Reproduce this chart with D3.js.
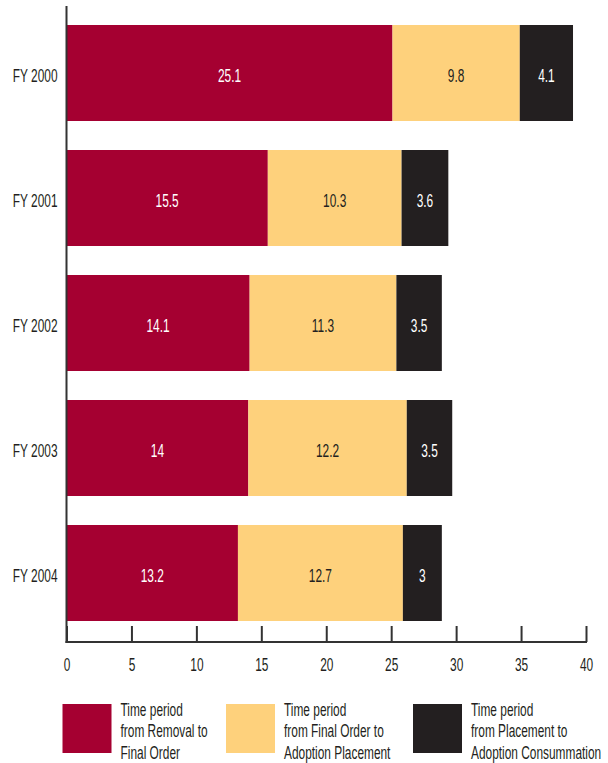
<!DOCTYPE html>
<html>
<head>
<meta charset="utf-8">
<script src="https://cdn.jsdelivr.net/npm/d3@7"></script>
<style>
  html, body { margin: 0; padding: 0; background: #fff; }
  svg { display: block; font-family: "Liberation Sans", "Arial", sans-serif; }
</style>
</head>
<body>
<svg id="chart" width="608" height="763"></svg>
<script>
// Fiscal years shown on the vertical axis
const years = ["FY 2000", "FY 2001", "FY 2002", "FY 2003", "FY 2004"];

// Months spent in each stage of the adoption process
const removalToFinalOrder = [25.1, 15.5, 14.1, 14, 13.2];
const finalOrderToPlacement = [9.8, 10.3, 11.3, 12.2, 12.7];
const placementToConsummation = [4.1, 3.6, 3.5, 3.5, 3];

const xTicks = [0, 5, 10, 15, 20, 25, 30, 35, 40];

const seriesNames = [
  ["Time period", "from Removal to", "Final Order"],
  ["Time period", "from Final Order to", "Adoption Placement"],
  ["Time period", "from Placement to", "Adoption Consummation"]
];
const seriesColors = ["#A50031", "#FED17C", "#231F20"];
const labelColors = ["#ffffff", "#231F20", "#ffffff"];

// Condensed lettering: regular sans squeezed horizontally
const FONT_SIZE = 17.5;
const SQUEEZE = 0.68;
const inkColor = "#231F20";

const svg = d3.select("#chart");

const x = d3.scaleLinear().domain([0, 40]).range([66.5, 586]);
const y = d3.scaleBand().domain(years).range([25, 621]).paddingInner(0.232).paddingOuter(0);

// Build stacked rows from the series arrays
const rows = years.map((yr, i) => ({
  year: yr,
  s0: removalToFinalOrder[i],
  s1: finalOrderToPlacement[i],
  s2: placementToConsummation[i]
}));
const layers = d3.stack().keys(["s0", "s1", "s2"])(rows);

const g = svg.append("g");
layers.forEach((layer, li) => {
  const lg = g.append("g");
  lg.selectAll("rect")
    .data(layer)
    .join("rect")
    .attr("x", d => x(d[0]))
    .attr("y", d => y(d.data.year))
    .attr("width", d => x(d[1]) - x(d[0]))
    .attr("height", y.bandwidth())
    .attr("fill", seriesColors[li]);
  lg.selectAll("text")
    .data(layer)
    .join("text")
    .attr("transform", d =>
      `translate(${(x(d[0]) + x(d[1])) / 2},${y(d.data.year) + y.bandwidth() / 2 + 9}) scale(${SQUEEZE},1)`)
    .attr("text-anchor", "middle")
    .attr("font-size", FONT_SIZE)
    .attr("fill", labelColors[li])
    .text(d => d.data[layer.key]);
});

// Category labels
svg.append("g").selectAll("text")
  .data(years)
  .join("text")
  .attr("transform", d => `translate(57.5,${y(d) + y.bandwidth() / 2 + 9.3}) scale(${SQUEEZE},1)`)
  .attr("text-anchor", "end")
  .attr("font-size", FONT_SIZE)
  .attr("fill", inkColor)
  .text(d => d);

// Axes
const axisColor = "#333333";
svg.append("line")
  .attr("x1", 66.5).attr("x2", 66.5)
  .attr("y1", 6).attr("y2", 643)
  .attr("stroke", axisColor).attr("stroke-width", 2);

const xAxis = d3.axisBottom(x).tickValues(xTicks).tickSize(-16).tickPadding(0).tickFormat(d3.format("d"));
const ax = svg.append("g").attr("transform", "translate(0,642)").call(xAxis);
ax.select(".domain").attr("stroke", axisColor).attr("stroke-width", 2).attr("d", `M${x(0) - 1},0H${x(40) + 1}`);
ax.selectAll(".tick line").attr("stroke", axisColor).attr("stroke-width", 2);
ax.selectAll(".tick text")
  .attr("y", 0)
  .attr("dy", null)
  .attr("transform", `translate(0,29) scale(${SQUEEZE},1)`)
  .attr("font-size", FONT_SIZE)
  .attr("font-family", null)
  .attr("fill", inkColor);

// Legend
const legendX = [62.5, 226, 413];
const legend = svg.append("g");
seriesNames.forEach((lines, i) => {
  legend.append("rect")
    .attr("x", legendX[i]).attr("y", 704)
    .attr("width", 49).attr("height", 49)
    .attr("fill", seriesColors[i]);
  const t = legend.append("text")
    .attr("transform", `translate(${legendX[i] + 58},0) scale(${SQUEEZE},1)`)
    .attr("font-size", FONT_SIZE)
    .attr("fill", inkColor);
  lines.forEach((ln, j) => {
    t.append("tspan")
      .attr("x", 0)
      .attr("y", 716 + j * 21.3)
      .text(ln);
  });
});
</script>
</body>
</html>
